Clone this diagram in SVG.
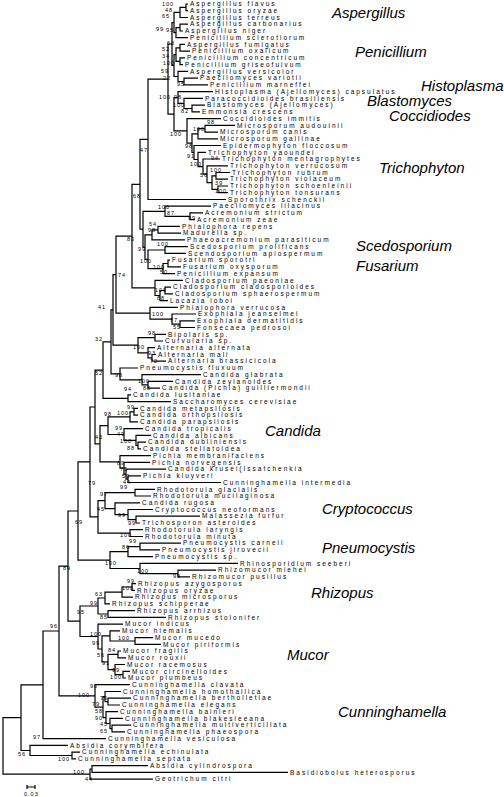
<svg xmlns="http://www.w3.org/2000/svg" width="504" height="797" viewBox="0 0 504 797">
<style>
.t{font-family:"Liberation Sans",Arial,sans-serif;font-size:6.5px;letter-spacing:2px;fill:#000}
.b{font-family:"Liberation Sans",Arial,sans-serif;font-size:5.5px;letter-spacing:1px;fill:#000}
.c{font-family:"Liberation Sans",Arial,sans-serif;font-size:15px;font-style:italic;fill:#000}
.e{fill:none;stroke:#000;stroke-width:1.2}
</style>
<rect width="504" height="797" fill="#fff"/>
<g id="connectors" class="e">
<path d="M188 4H186V10.7H188"/><path d="M186 7.4H180V17.5H188"/><path d="M188 24.2H180V31H183"/><path d="M180 27.6H176V37.7H188"/><path d="M180 12.4H174V32.7H176"/>
<path d="M185 44.4H180V51.2H190"/><path d="M185 57.9H180V64.7H183"/><path d="M180 47.8H176V61.3H180"/><path d="M198 78.1H184V84.9H208"/><path d="M188 71.4H178V81.5H184"/><path d="M176 54.6H174V76.5H178"/><path d="M174 22.6H172V65.5H174"/>
<path d="M205 105.1H192V111.8H200"/><path d="M203 98.4H184V108.5H192"/><path d="M213 91.6H178V103.4H184"/><path d="M235 125.3H205V132.1H218"/><path d="M205 128.7H198V138.8H218"/>
<path d="M230 172.5H216V179.2H228"/><path d="M228 186H218V192.7H228"/><path d="M216 175.9H212V189.4H218"/><path d="M228 165.8H207V182.6H212"/><path d="M220 159H203V174.2H207"/><path d="M206 152.3H198V166.6H203"/><path d="M221 145.5H194V159.5H198"/><path d="M198 133.8H192V152.5H194"/><path d="M221 118.6H187V143.1H192"/><path d="M178 97.5H174V130.9H187"/><path d="M172 44H168V114.2H174"/><path d="M168 79.1H148V199.5H226"/>
<path d="M203 212.9H190V219.7H195"/><path d="M211 206.2H165V216.3H190"/><path d="M180 226.4H158V233.2H181"/><path d="M158 229.8H152V239.9H185"/><path d="M188 246.6H165V253.4H186"/><path d="M170 260.1H168V266.9H181"/><path d="M168 263.5H163V273.6H175"/><path d="M165 250H148V268.6H163"/><path d="M152 234.9H145V259.3H148"/><path d="M165 211.3H143V247.1H145"/><path d="M148 139.3H140V229.2H143"/>
<path d="M171 287.1H165V293.8H173"/><path d="M165 290.5H160V300.6H168"/><path d="M183 280.3H155V295.5H160"/><path d="M140 184.3H132V287.9H155"/>
<path d="M195 320.8H180V327.5H195"/><path d="M196 314H172V324.2H180"/><path d="M178 307.3H150V319.1H172"/><path d="M132 236.1H116V313.2H150"/>
<path d="M166 334.3H155V341H163"/><path d="M156 354.5H152V361.2H166"/><path d="M155 347.7H148V357.9H152"/><path d="M155 337.7H138V352.8H148"/><path d="M116 274.7H113V345.2H138"/>
<path d="M173 381.4H148V388.2H160"/><path d="M201 374.7H142V384.8H148"/><path d="M138 368H120V379.8H142"/><path d="M113 309.9H111V373.9H120"/><path d="M131 394.9H128V401.7H171"/><path d="M111 341.9H103V398.3H128"/>
<path d="M138 408.4H134V415.1H138"/><path d="M134 411.8H130V421.9H138"/><path d="M146 442.1H138V448.8H141"/><path d="M151 435.4H136V445.5H138"/><path d="M143 428.6H124V440.4H136"/><path d="M130 416.8H108V434.5H124"/>
<path d="M141 475.8H128V482.5H221"/><path d="M166 469.1H126V479.2H128"/><path d="M150 462.3H124V474.1H126"/><path d="M151 455.6H120V468.2H124"/><path d="M108 425.7H100V461.9H120"/><path d="M103 370.1H95V443.8H100"/>
<path d="M155 489.3H135V496H151"/><path d="M200 516.2H136V523H140"/><path d="M153 509.5H128V519.6H136"/><path d="M140 502.8H115V514.6H128"/><path d="M135 492.7H105V508.7H115"/><path d="M143 529.7H130V536.5H143"/><path d="M105 500.7H98V533.1H130"/><path d="M95 407H90V516.9H98"/>
<path d="M181 543.2H140V549.9H160"/><path d="M140 546.6H128V556.7H153"/><path d="M216 570.2H178V576.9H190"/><path d="M238 563.4H140V573.6H178"/><path d="M128 551.6H110V568.5H140"/><path d="M90 461.9H78V560.1H110"/>
<path d="M136 583.6H132V590.4H135"/><path d="M132 587H122V597.1H133"/><path d="M122 592.1H105V603.9H110"/><path d="M135 610.6H108V617.3H166"/><path d="M105 598H98V614H108"/>
<path d="M153 637.6H135V644.3H161"/><path d="M120 630.8H110V641H135"/><path d="M121 651H118V657.8H126"/><path d="M130 671.3H123V678H126"/><path d="M125 664.5H115V674.7H123"/><path d="M118 654.4H108V669.6H115"/><path d="M110 635.9H102V662H108"/><path d="M123 624.1H98V649H102"/><path d="M98 606H80V636.5H98"/><path d="M78 511H68V621.2H80"/>
<path d="M131 698.2H108V705H120"/><path d="M121 691.5H105V701.6H108"/><path d="M131 725.2H112V731.9H125"/><path d="M123 718.4H110V728.6H112"/><path d="M118 711.7H106V723.5H110"/><path d="M105 696.6H103V717.6H106"/><path d="M130 684.7H95V707.1H103"/><path d="M68 566.1H59V695.9H95"/><path d="M59 631H43V738.7H106"/>
<path d="M80 752.1H72V758.9H76"/><path d="M68 745.4H30V755.5H72"/><path d="M43 684.9H21V750.5H30"/>
<path d="M148 765.6H92V772.4H288"/><path d="M92 769H90V779.1H153"/><path d="M21 717.7H3V774.1H90"/>
</g>
<g id="leaves" class="t">
<g id="n1"><text x="190" y="6.2">Aspergillus flavus</text></g>
<g id="n2"><text x="190" y="12.9">Aspergillus oryzae</text></g>
<g id="n3"><text x="190" y="19.7">Aspergillus terreus</text></g>
<g id="n4"><text x="190" y="26.4">Aspergillus carbonarius</text></g>
<g id="n5"><text x="185" y="33.2">Aspergillus niger</text></g>
<g id="n6"><text x="190" y="39.9">Penicillium sclerotiorum</text></g>
<g id="n7"><text x="187" y="46.6">Aspergillus fumigatus</text></g>
<g id="n8"><text x="192" y="53.4">Penicillium oxalicum</text></g>
<g id="n9"><text x="187" y="60.1">Penicillium concentricum</text></g>
<g id="n10"><text x="185" y="66.9">Penicillium griseofulvum</text></g>
<g id="n11"><text x="190" y="73.6">Aspergillus versicolor</text></g>
<g id="n12"><text x="200" y="80.3">Paecilomyces variotii</text></g>
<g id="n13"><text x="210" y="87.1">Penicillium marneffei</text></g>
<g id="n14"><text x="215" y="93.8">Histoplasma (Ajellomyces) capsulatus</text></g>
<g id="n15"><text x="205" y="100.6">Paracoccidioides brasiliensis</text></g>
<g id="n16"><text x="207" y="107.3">Blastomyces (Ajellomyces)</text></g>
<g id="n17"><text x="202" y="114">Emmonsia crescens</text></g>
<g id="n18"><text x="223" y="120.8">Coccidioides immitis</text></g>
<g id="n19"><text x="237" y="127.5">Microsporum audouinii</text></g>
<g id="n20"><text x="220" y="134.3">Microsporum canis</text></g>
<g id="n21"><text x="220" y="141">Microsporum gallinae</text></g>
<g id="n22"><text x="223" y="147.7">Epidermophyton floccosum</text></g>
<g id="n23"><text x="208" y="154.5">Trichophyton yaoundei</text></g>
<g id="n24"><text x="222" y="161.2">Trichophyton mentagrophytes</text></g>
<g id="n25"><text x="230" y="168">Trichophyton verrucosum</text></g>
<g id="n26"><text x="232" y="174.7">Trichophyton rubrum</text></g>
<g id="n27"><text x="230" y="181.4">Trichophyton violaceum</text></g>
<g id="n28"><text x="230" y="188.2">Trichophyton schoenleinii</text></g>
<g id="n29"><text x="230" y="194.9">Trichophyton tonsurans</text></g>
<g id="n30"><text x="228" y="201.7">Sporothrix schenckii</text></g>
<g id="n31"><text x="213" y="208.4">Paecilomyces lilacinus</text></g>
<g id="n32"><text x="205" y="215.1">Acremonium strictum</text></g>
<g id="n33"><text x="197" y="221.9">Acremonium zeae</text></g>
<g id="n34"><text x="182" y="228.6">Phialophora repens</text></g>
<g id="n35"><text x="183" y="235.4">Madurella sp.</text></g>
<g id="n36"><text x="187" y="242.1">Phaeoacremonium parasiticum</text></g>
<g id="n37"><text x="190" y="248.8">Scedosporium prolificans</text></g>
<g id="n38"><text x="188" y="255.6">Scendosporium apiospermum</text></g>
<g id="n39"><text x="172" y="262.3">Fusarium sporotri</text></g>
<g id="n40"><text x="183" y="269.1">Fusarium oxysporum</text></g>
<g id="n41"><text x="177" y="275.8">Penicillium expansum</text></g>
<g id="n42"><text x="185" y="282.5">Cladosporium paeoniae</text></g>
<g id="n43"><text x="173" y="289.3">Cladosporium cladosporioides</text></g>
<g id="n44"><text x="175" y="296">Cladosporium sphaerospermum</text></g>
<g id="n45"><text x="170" y="302.8">Lacazia loboi</text></g>
<g id="n46"><text x="180" y="309.5">Phialophora verrucosa</text></g>
<g id="n47"><text x="198" y="316.2">Exophiala jeanselmei</text></g>
<g id="n48"><text x="197" y="323">Exophiala dermatitidis</text></g>
<g id="n49"><text x="197" y="329.7">Fonsecaea pedrosoi</text></g>
<g id="n50"><text x="168" y="336.5">Bipolaris sp.</text></g>
<g id="n51"><text x="165" y="343.2">Curvularia sp.</text></g>
<g id="n52"><text x="157" y="349.9">Alternaria alternata</text></g>
<g id="n53"><text x="158" y="356.7">Alternaria mali</text></g>
<g id="n54"><text x="168" y="363.4">Alternaria brassicicola</text></g>
<g id="n55"><text x="140" y="370.2">Pneumocystis fluxuum</text></g>
<g id="n56"><text x="203" y="376.9">Candida glabrata</text></g>
<g id="n57"><text x="175" y="383.6">Candida zeylanoides</text></g>
<g id="n58"><text x="162" y="390.4">Candida (Pichia) guilliermondii</text></g>
<g id="n59"><text x="133" y="397.1">Candida lusitaniae</text></g>
<g id="n60"><text x="173" y="403.9">Saccharomyces cerevisiae</text></g>
<g id="n61"><text x="140" y="410.6">Candida metapsilosis</text></g>
<g id="n62"><text x="140" y="417.3">Candida orthopsilosis</text></g>
<g id="n63"><text x="140" y="424.1">Candida parapsilosis</text></g>
<g id="n64"><text x="145" y="430.8">Candida tropicalis</text></g>
<g id="n65"><text x="153" y="437.6">Candida albicans</text></g>
<g id="n66"><text x="148" y="444.3">Candida dubliniensis</text></g>
<g id="n67"><text x="143" y="451">Candida stellatoidea</text></g>
<g id="n68"><text x="153" y="457.8">Pichia membranifaciens</text></g>
<g id="n69"><text x="152" y="464.5">Pichia norvegensis</text></g>
<g id="n70"><text x="168" y="471.3">Candida krusei(Issatchenkia</text></g>
<g id="n71"><text x="143" y="478">Pichia kluyveri</text></g>
<g id="n72"><text x="223" y="484.7">Cunninghamella intermedia</text></g>
<g id="n73"><text x="157" y="491.5">Rhodotorula glacialis</text></g>
<g id="n74"><text x="153" y="498.2">Rhodotorula mucilaginosa</text></g>
<g id="n75"><text x="142" y="505">Candida rugosa</text></g>
<g id="n76"><text x="155" y="511.7">Cryptococcus neoformans</text></g>
<g id="n77"><text x="202" y="518.4">Malassezia furfur</text></g>
<g id="n78"><text x="142" y="525.2">Trichosporon asteroides</text></g>
<g id="n79"><text x="145" y="531.9">Rhodotorula laryngis</text></g>
<g id="n80"><text x="145" y="538.7">Rhodotorula minuta</text></g>
<g id="n81"><text x="183" y="545.4">Pneumocystis carneii</text></g>
<g id="n82"><text x="162" y="552.1">Pneumocystis jirovecii</text></g>
<g id="n83"><text x="155" y="558.9">Pneumocystis sp.</text></g>
<g id="n84"><text x="240" y="565.6">Rhinosporidium seeberi</text></g>
<g id="n85"><text x="218" y="572.4">Rhizomucor miehei</text></g>
<g id="n86"><text x="192" y="579.1">Rhizomucor pusillus</text></g>
<g id="n87"><text x="138" y="585.8">Rhizopus azygosporus</text></g>
<g id="n88"><text x="137" y="592.6">Rhizopus oryzae</text></g>
<g id="n89"><text x="135" y="599.3">Rhizopus microsporus</text></g>
<g id="n90"><text x="112" y="606.1">Rhizopus schipperae</text></g>
<g id="n91"><text x="137" y="612.8">Rhizopus arrhizus</text></g>
<g id="n92"><text x="168" y="619.5">Rhizopus stolonifer</text></g>
<g id="n93"><text x="125" y="626.3">Mucor indicus</text></g>
<g id="n94"><text x="122" y="633">Mucor hiemalis</text></g>
<g id="n95"><text x="155" y="639.8">Mucor mucedo</text></g>
<g id="n96"><text x="163" y="646.5">Mucor piriformis</text></g>
<g id="n97"><text x="123" y="653.2">Mucor fragilis</text></g>
<g id="n98"><text x="128" y="660">Mucor rouxii</text></g>
<g id="n99"><text x="127" y="666.7">Mucor racemosus</text></g>
<g id="n100"><text x="132" y="673.5">Mucor circinelloides</text></g>
<g id="n101"><text x="128" y="680.2">Mucor plumbeus</text></g>
<g id="n102"><text x="132" y="686.9">Cunninghamella clavata</text></g>
<g id="n103"><text x="123" y="693.7">Cunninghamella homothallica</text></g>
<g id="n104"><text x="133" y="700.4">Cunninghamella bertholletiae</text></g>
<g id="n105"><text x="122" y="707.2">Cunninghamella elegans</text></g>
<g id="n106"><text x="120" y="713.9">Cunninghamella bainieri</text></g>
<g id="n107"><text x="125" y="720.6">Cunninghamella blakesleeana</text></g>
<g id="n108"><text x="133" y="727.4">Cunninghamella multiverticillata</text></g>
<g id="n109"><text x="127" y="734.1">Cunninghamella phaeospora</text></g>
<g id="n110"><text x="108" y="740.9">Cunninghamella vesiculosa</text></g>
<g id="n111"><text x="70" y="747.6">Absidia corymbifera</text></g>
<g id="n112"><text x="82" y="754.3">Cunninghamella echinulata</text></g>
<g id="n113"><text x="78" y="761.1">Cunninghamella septata</text></g>
<g id="n114"><text x="150" y="767.8">Absidia cylindrospora</text></g>
<g id="n115"><text x="290" y="774.6">Basidiobolus heterosporus</text></g>
<g id="n116"><text x="155" y="781.3">Geotrichum citri</text></g>
</g>
<g id="bootstrap" class="b">
<text x="162" y="5.5">100</text><text x="165" y="11.5">48</text><text x="162" y="18">65</text><text x="156" y="31">99</text><text x="166" y="32">95</text><text x="167" y="45">63</text><text x="162" y="51">52</text><text x="162" y="58">34</text><text x="163" y="65">100</text><text x="161" y="73">59</text><text x="163" y="80">22</text><text x="177" y="86">95</text>
<text x="159" y="99">100</text><text x="174" y="99">98</text><text x="173" y="107">100</text><text x="181" y="113">82</text><text x="207" y="124">98</text><text x="193" y="131">100</text><text x="170" y="136">100</text><text x="185" y="148">98</text><text x="140" y="152">47</text><text x="187" y="158">91</text><text x="211" y="160">94</text><text x="190" y="166">100</text><text x="210" y="172">100</text><text x="200" y="177">56</text><text x="215" y="185">39</text><text x="215" y="193">100</text>
<text x="133" y="198">68</text><text x="158" y="209">100</text><text x="167" y="215">87</text><text x="188" y="220">99</text><text x="149" y="226">54</text><text x="148" y="232">98</text><text x="127" y="241">80</text><text x="157" y="246">100</text><text x="138" y="251">99</text><text x="140" y="263">100</text><text x="153" y="269">100</text><text x="160" y="274">50</text><text x="118" y="277">74</text><text x="155" y="292">100</text><text x="157" y="300">88</text>
<text x="98" y="309">41</text><text x="152" y="316">100</text><text x="170" y="322">77</text><text x="173" y="329">55</text><text x="148" y="335">98</text><text x="95" y="341">32</text><text x="133" y="349">100</text><text x="148" y="355">93</text><text x="150" y="363">72</text><text x="95" y="375">52</text><text x="115" y="377">98</text><text x="138" y="383">100</text><text x="143" y="390">88</text><text x="124" y="391">94</text>
<text x="127" y="409">99</text><text x="104" y="416">98</text><text x="117" y="415">100</text><text x="115" y="430">99</text><text x="95" y="439">43</text><text x="117" y="436">49</text><text x="120" y="443">100</text><text x="127" y="450">88</text><text x="117" y="465">89</text><text x="120" y="471">75</text><text x="122" y="478">50</text><text x="123" y="484">44</text><text x="88" y="485">79</text><text x="120" y="489">99</text><text x="100" y="496">97</text>
<text x="97" y="511">45</text><text x="118" y="517">99</text><text x="75" y="524">69</text><text x="128" y="525">99</text><text x="120" y="537">100</text><text x="129" y="543">99</text><text x="122" y="549">86</text><text x="105" y="565">100</text><text x="63" y="570">89</text><text x="137" y="573">100</text><text x="173" y="578">99</text><text x="127" y="583">99</text><text x="122" y="590">100</text><text x="95" y="596">63</text>
<text x="90" y="605">99</text><text x="77" y="614">95</text><text x="100" y="619">85</text><text x="50" y="628">96</text><text x="90" y="636">100</text><text x="118" y="640">100</text><text x="92" y="645">99</text><text x="108" y="652">84</text><text x="97" y="657">56</text><text x="102" y="665">91</text><text x="112" y="672">99</text><text x="110" y="679">100</text>
<text x="90" y="688">90</text><text x="78" y="697">100</text><text x="100" y="700">76</text><text x="92" y="706">79</text><text x="95" y="713">58</text><text x="95" y="720">90</text><text x="100" y="726">45</text><text x="100" y="733">65</text><text x="33" y="739">97</text><text x="18" y="756">56</text><text x="58" y="761">100</text><text x="73" y="774">100</text><text x="85" y="781">44</text>
</g>
<g id="clades" class="c">
<text x="332" y="18">Aspergillus</text>
<text x="355" y="57">Penicillium</text>
<text x="421" y="91">Histoplasma</text>
<text x="367" y="106">Blastomyces</text>
<text x="389" y="121">Coccidiodes</text>
<text x="379" y="173">Trichophyton</text>
<text x="356" y="251">Scedosporium</text>
<text x="356" y="271">Fusarium</text>
<text x="265" y="436">Candida</text>
<text x="322" y="514">Cryptococcus</text>
<text x="322" y="553">Pneumocystis</text>
<text x="311" y="598">Rhizopus</text>
<text x="287" y="660">Mucor</text>
<text x="338" y="717">Cunninghamella</text>
</g>
<g id="scalebar">
<path class="e" d="M27 787H35M27 785V789M35 785V789"/>
<text class="b" x="24" y="796">0.03</text>
</g>
</svg>
